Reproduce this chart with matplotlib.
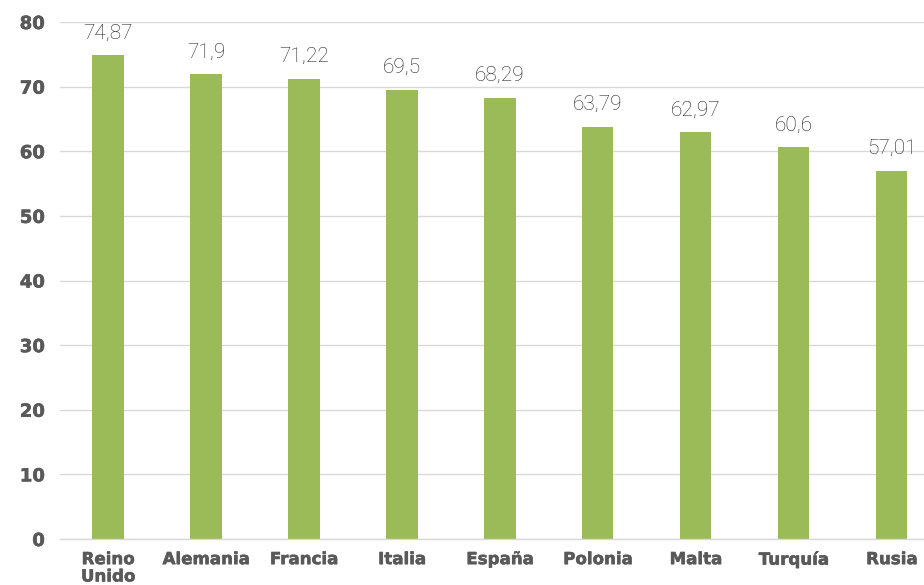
import matplotlib
matplotlib.use("Agg")
import matplotlib.pyplot as plt
import matplotlib.patheffects as pe

categories = ["Reino\nUnido", "Alemania", "Francia", "Italia", "España", "Polonia", "Malta", "Turquía", "Rusia"]
values = [74.87, 71.9, 71.22, 69.5, 68.29, 63.79, 62.97, 60.6, 57.01]
value_labels = ["74,87", "71,9", "71,22", "69,5", "68,29", "63,79", "62,97", "60,6", "57,01"]
yticks = [0, 10, 20, 30, 40, 50, 60, 70, 80]

fig = plt.figure(figsize=(9.24, 5.85), dpi=100)
ax = fig.add_axes([0.065, 0.0786, 0.935, 0.8838])

x = list(range(len(categories)))
ax.bar(x, values, width=0.32, color="#9BBB59", zorder=3)

for xi, v, lab in zip(x, values, value_labels):
    ax.annotate(lab, (xi, v), xytext=(0, 9), textcoords="offset points",
                ha="center", va="bottom", fontsize=15, color="#222222",
                family="Roboto", fontweight="light")

ax.set_xlim(-0.49, 8.33)
ax.set_ylim(0, 80)
ax.set_yticks(yticks)
ax.set_yticklabels([str(t) for t in yticks], fontsize=13, fontweight="bold",
                   color="#595959", family="DejaVu Sans")
ax.set_xticks(x)
ax.set_xticklabels(categories, fontsize=12, fontweight="bold", color="#595959",
                   family="DejaVu Sans", linespacing=0.95)
thick = [pe.withStroke(linewidth=0.4, foreground="#595959")]
for t in ax.get_xticklabels() + ax.get_yticklabels():
    t.set_path_effects(thick)
ax.tick_params(axis="both", length=0)
ax.tick_params(axis="y", pad=11)
ax.tick_params(axis="x", pad=8)
ax.grid(axis="y", color="#D9D9D9", linewidth=1, zorder=0)
for s in ["top", "right", "left"]:
    ax.spines[s].set_visible(False)
ax.spines["bottom"].set_color("#D9D9D9")
ax.spines["bottom"].set_linewidth(1)
ax.spines["bottom"].set_zorder(4)

fig.savefig("out.png", dpi=100)
